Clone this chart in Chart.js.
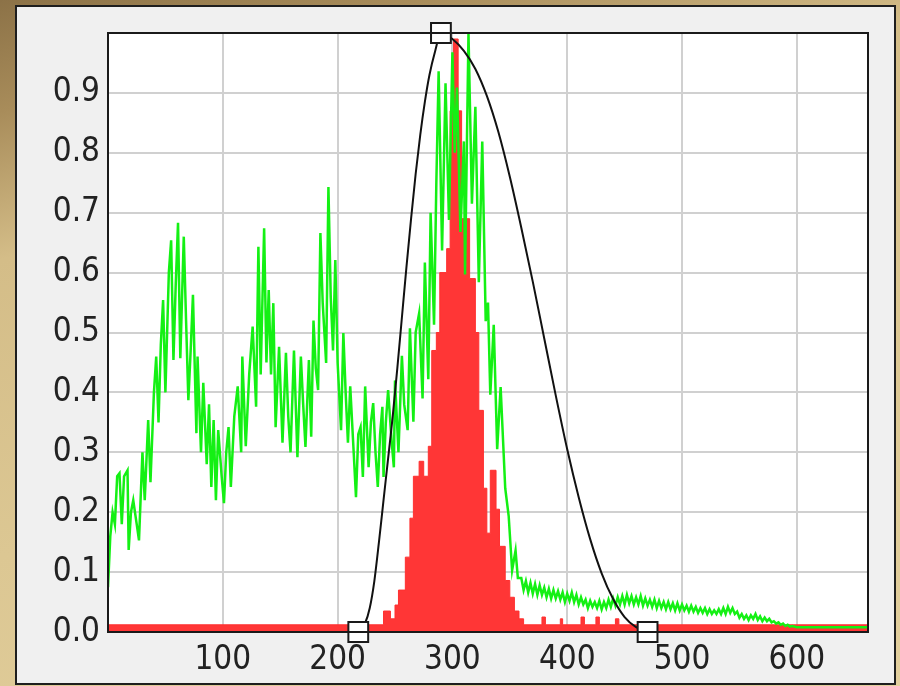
<!DOCTYPE html>
<html>
<head>
<meta charset="utf-8">
<script src="https://cdn.jsdelivr.net/npm/chart.js@4/dist/chart.umd.min.js"></script>
<style>
  html, body { margin: 0; padding: 0; }
  body {
    width: 900px; height: 686px; overflow: hidden; position: relative;
    background: linear-gradient(165deg, #8c7247 0%, #a88c5a 12%, #d4bd88 28%, #dcc793 60%, #e2cf9d 100%);
  }
  #panel {
    position: absolute; left: 15px; top: 5px; width: 877px; height: 676px;
    background: #f0f0f0; border: 2px solid #1e1e1e;
  }
  #wrap { position: absolute; left: 0; top: 0; width: 900px; height: 686px; }
</style>
</head>
<body>
<div id="panel"></div>
<div id="wrap"><canvas id="myChart" width="900" height="686"></canvas></div>
<script>
// green curve (x, value)
var greenX = [0, 2, 4, 6, 8, 10, 12, 14, 17, 18, 20, 22, 25, 27, 30, 32, 35, 37, 40, 42,
  44, 46, 48, 50, 53, 55, 57, 59, 61, 63, 66, 68, 70, 72, 74, 77, 78, 81, 83, 86,
  88, 90, 92, 94, 96, 99, 101, 103, 105, 107, 110, 113, 116, 117, 120, 123, 126, 129, 131, 133,
  136, 138, 140, 142, 144, 146, 149, 152, 155, 157, 159, 162, 165, 168, 170, 172, 175, 177, 179, 181,
  183, 185, 187, 190, 192, 194, 196, 198, 200, 203, 205, 207, 209, 211, 214, 216, 218, 220, 222, 224,
  227, 229, 231, 233, 235, 237, 239, 240, 242, 244, 247, 249, 250, 253, 256, 258, 261, 263, 266, 268,
  271, 274, 276, 279, 281, 284, 286, 288, 291, 294, 297, 300, 302, 304, 307, 310, 311, 314, 317, 320,
  323, 326, 329, 331, 333, 336, 339, 342, 346, 349, 352, 355, 357,
  360, 362, 364, 366, 368, 370, 372, 374, 376, 378, 380, 382, 384, 386, 388, 390, 392, 394, 396, 398,
  400, 402, 404, 406, 408, 410, 412, 414, 416, 418, 420, 422, 424, 426, 428, 430, 432, 434, 436, 438,
  440, 442, 444, 446, 448, 450, 452, 454, 456, 458, 460, 462, 464, 466, 468, 470, 472, 474, 476, 478,
  480, 482, 484, 486, 488, 490, 492, 494, 496, 498, 500, 502, 504, 506, 508, 510, 512, 514, 516, 518,
  520, 522, 524, 526, 528, 530, 532, 534, 536, 538, 540, 542, 544, 546, 548, 550, 552, 554, 556, 558,
  560, 562, 564, 566, 568, 570, 572, 574, 576, 578, 580, 582, 584, 586, 588, 590, 592, 594, 596, 600,
  620, 640, 662];
var greenY = [0.075, 0.16, 0.20, 0.18, 0.26, 0.265, 0.18, 0.26, 0.27, 0.137, 0.20, 0.22, 0.18, 0.153, 0.30, 0.22, 0.354, 0.25, 0.40, 0.46,
  0.35, 0.48, 0.554, 0.40, 0.60, 0.654, 0.454, 0.58, 0.683, 0.457, 0.66, 0.52, 0.387, 0.47, 0.563, 0.332, 0.46, 0.30, 0.416, 0.28,
  0.38, 0.242, 0.354, 0.22, 0.337, 0.26, 0.215, 0.30, 0.342, 0.242, 0.36, 0.41, 0.30, 0.46, 0.31, 0.43, 0.51, 0.376, 0.643, 0.43,
  0.674, 0.45, 0.571, 0.43, 0.549, 0.342, 0.476, 0.316, 0.466, 0.36, 0.30, 0.47, 0.292, 0.46, 0.38, 0.309, 0.454, 0.326, 0.52, 0.44,
  0.404, 0.666, 0.55, 0.449, 0.743, 0.56, 0.47, 0.621, 0.45, 0.337, 0.499, 0.40, 0.316, 0.41, 0.30, 0.225, 0.33, 0.342, 0.259, 0.41,
  0.275, 0.35, 0.382, 0.30, 0.242, 0.33, 0.376, 0.259, 0.35, 0.404, 0.32, 0.275, 0.42, 0.30, 0.461, 0.38, 0.337, 0.507, 0.351, 0.50,
  0.532, 0.39, 0.617, 0.422, 0.70, 0.513, 0.75, 0.936, 0.637, 0.916, 0.688, 0.968, 0.80, 0.909, 0.668, 0.819, 0.597, 1.0, 0.715, 0.877,
  0.584, 0.819, 0.519, 0.55, 0.396, 0.513, 0.305, 0.409, 0.24, 0.194, 0.103, 0.136, 0.09,
  0.09, 0.07, 0.085, 0.066, 0.082, 0.064, 0.08, 0.062, 0.078, 0.062, 0.074, 0.058, 0.072, 0.056, 0.07, 0.056, 0.068, 0.054, 0.066, 0.05,
  0.064, 0.052, 0.066, 0.05, 0.062, 0.046, 0.058, 0.046, 0.054, 0.04, 0.052, 0.042, 0.05, 0.04, 0.052, 0.038, 0.05, 0.04, 0.054, 0.042,
  0.056, 0.044, 0.058, 0.046, 0.06, 0.046, 0.062, 0.048, 0.06, 0.046, 0.058, 0.046, 0.06, 0.044, 0.056, 0.044, 0.054, 0.042, 0.054, 0.04,
  0.052, 0.04, 0.05, 0.038, 0.05, 0.038, 0.048, 0.036, 0.048, 0.036, 0.046, 0.036, 0.044, 0.034, 0.044, 0.034, 0.042, 0.032, 0.04, 0.032,
  0.04, 0.03, 0.038, 0.03, 0.036, 0.03, 0.038, 0.03, 0.04, 0.03, 0.042, 0.032, 0.04, 0.03, 0.034, 0.024, 0.03, 0.022, 0.028, 0.02,
  0.028, 0.022, 0.03, 0.02, 0.026, 0.018, 0.024, 0.018, 0.022, 0.016, 0.018, 0.014, 0.016, 0.012, 0.014, 0.01, 0.012, 0.009, 0.01, 0.008,
  0.008, 0.008, 0.008];

// red histogram, bin start and height
var redX = [0, 240, 246, 250, 253, 259, 263, 266, 271, 275, 279, 282, 286, 289, 295, 298, 301, 305, 308, 315,
  320, 323, 327, 330, 333, 338, 341, 346, 350, 354, 358, 362, 378, 381, 394, 396, 412, 415, 425, 428,
  442, 445, 662];
var redY = [0.012, 0.035, 0.022, 0.045, 0.07, 0.125, 0.19, 0.26, 0.285, 0.26, 0.31, 0.47, 0.50, 0.60, 0.64, 0.87, 0.99, 0.87, 0.69, 0.59,
  0.50, 0.37, 0.24, 0.165, 0.27, 0.205, 0.143, 0.086, 0.058, 0.035, 0.022, 0.012, 0.025, 0.012, 0.022, 0.012, 0.025, 0.012, 0.025, 0.012,
  0.022, 0.012, 0.012];

// black transfer curve and its handles
var curveX = [218, 224, 228, 232, 236, 240, 244, 248, 252, 256, 260, 264, 268, 272, 276, 280, 285, 290, 300, 310,
  320, 330, 340, 350, 360, 370, 380, 390, 400, 410, 420, 430, 440, 450, 460, 470];
var curveY = [0, 0.015, 0.04, 0.085, 0.15, 0.22, 0.29, 0.36, 0.44, 0.525, 0.61, 0.69, 0.765, 0.83, 0.885, 0.93, 0.97, 1.0, 0.99, 0.97,
  0.94, 0.895, 0.835, 0.76, 0.675, 0.585, 0.49, 0.395, 0.305, 0.225, 0.155, 0.098, 0.055, 0.025, 0.008, 0];
var handleX = [218, 290, 470];
var handleY = [0, 1, 0];

var xMax = 662;
var xTicks = [100, 200, 300, 400, 500, 600];

function pts(xs, ys) {
  return xs.map(function (x, i) { return { x: x, y: ys[i] }; });
}

// white plot area + frame
var plotFrame = {
  id: "plotFrame",
  beforeDraw: function (chart) {
    var a = chart.chartArea, ctx = chart.ctx;
    ctx.save();
    ctx.fillStyle = "#ffffff";
    ctx.fillRect(a.left, a.top, a.right - a.left, a.bottom - a.top);
    ctx.restore();
  },
  afterDatasetsDraw: function (chart) {
    var a = chart.chartArea, ctx = chart.ctx;
    ctx.save();
    ctx.strokeStyle = "#1a1a1a";
    ctx.lineWidth = 2;
    ctx.strokeRect(a.left, a.top, a.right - a.left, a.bottom - a.top);
    ctx.restore();
  }
};

var font = { family: "'DejaVu Sans Condensed', 'Liberation Sans', sans-serif", size: 33 };

new Chart("myChart", {
  type: "line",
  data: {
    datasets: [
      {
        data: pts(handleX, handleY),
        showLine: false,
        pointStyle: "rect",
        pointRadius: 14,
        pointBackgroundColor: "#ffffff",
        pointBorderColor: "#1a1a1a",
        pointBorderWidth: 2,
        clip: false,
        order: 0
      },
      {
        data: pts(curveX, curveY),
        borderColor: "#111111",
        borderWidth: 2,
        pointRadius: 0,
        cubicInterpolationMode: "monotone",
        fill: false,
        order: 1
      },
      {
        data: pts(greenX, greenY),
        borderColor: "#14f014",
        borderWidth: 2.5,
        pointRadius: 0,
        tension: 0,
        fill: false,
        order: 2
      },
      {
        data: pts(redX, redY),
        borderColor: "#ff3030",
        backgroundColor: "#ff3636",
        borderWidth: 1,
        pointRadius: 0,
        stepped: true,
        fill: "origin",
        order: 3
      }
    ]
  },
  options: {
    responsive: false,
    animation: false,
    layout: { padding: { left: 0, top: 33, right: 32, bottom: 0 } },
    plugins: { legend: { display: false }, tooltip: { enabled: false } },
    scales: {
      x: {
        type: "linear",
        min: 0,
        max: xMax,
        afterFit: function (s) { s.height = 54; },
        afterBuildTicks: function (s) {
          s.ticks = xTicks.map(function (v) { return { value: v }; });
        },
        grid: { color: "#d0d0d0", lineWidth: 2, drawTicks: false },
        border: { display: false },
        ticks: { color: "#222222", font: font, padding: 9, maxRotation: 0, autoSkip: false }
      },
      y: {
        min: 0,
        max: 1,
        afterFit: function (s) { s.width = 108; },
        grid: { color: "#d0d0d0", lineWidth: 2, drawTicks: false },
        border: { display: false },
        ticks: {
          stepSize: 0.1,
          color: "#222222",
          font: font,
          padding: 8,
          callback: function (v) { return v >= 0.99 ? "" : v.toFixed(1); }
        }
      }
    }
  },
  plugins: [plotFrame]
});
</script>
</body>
</html>
